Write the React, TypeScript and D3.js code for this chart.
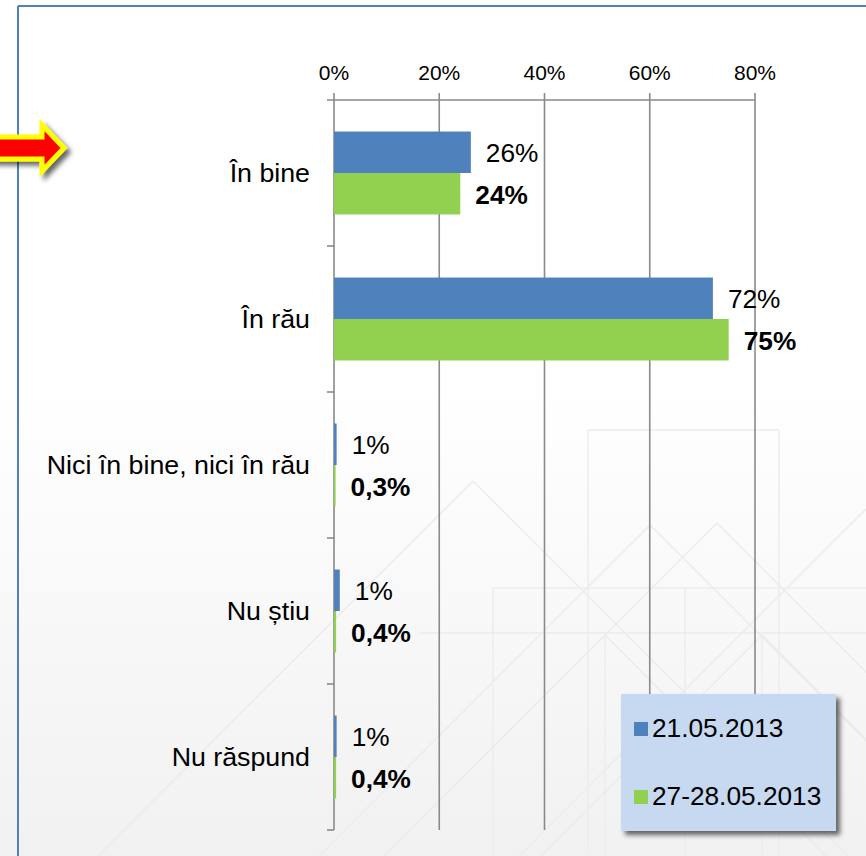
import React from "react";
import * as d3 from "d3";

const categories = ["În bine", "În rău", "Nici în bine, nici în rău", "Nu știu", "Nu răspund"];
const series1Name = "21.05.2013";
const series2Name = "27-28.05.2013";
const series1Values = [26, 72, 0.5, 1.1, 0.5];
const series2Values = [24, 75, 0.3, 0.4, 0.4];
const series1Labels = ["26%", "72%", "1%", "1%", "1%"];
const series2Labels = ["24%", "75%", "0,3%", "0,4%", "0,4%"];
const xTicks = [0, 20, 40, 60, 80];

const BLUE = "#4f81bd";
const GREEN = "#92d050";
const GRID = "#8a8a8a";
const FONT = "'Liberation Sans', Arial, sans-serif";
const SX = 1.05;

const W = 866;
const H = 856;

function T(props: {
  x: number;
  y: number;
  size: number;
  anchor?: "start" | "middle" | "end";
  bold?: boolean;
  children: React.ReactNode;
}) {
  return (
    <text
      transform={`translate(${props.x},${props.y}) scale(${SX},1)`}
      textAnchor={props.anchor || "start"}
      fontSize={props.size}
      fontWeight={props.bold ? "bold" : "normal"}
      fill="#000"
    >
      {props.children}
    </text>
  );
}

export default function App() {
  const x = d3.scaleLinear().domain([0, 80]).range([334, 755]);
  const y = d3.scaleBand<string>().domain(categories).range([100, 830]);
  const bw = y.bandwidth();
  const barH = bw * 0.284;

  // decorative faint background pattern
  const peaks: [number, number][] = [
    [473, 481], [650, 525], [717, 523], [605, 635], [762, 635], [880, 495],
  ];
  const patternLines: [number, number, number, number][] = [];
  peaks.forEach(([px, py]) => {
    const d = H - py;
    patternLines.push([px, py, px - d, H]);
    patternLines.push([px, py, px + d, H]);
  });
  patternLines.push([588, 430, 779, 430]);
  patternLines.push([588, 430, 588, H]);
  patternLines.push([779, 430, 779, H]);
  patternLines.push([493, 588, W, 588]);
  patternLines.push([493, 588, 493, H]);
  patternLines.push([685, 588, 685, H]);
  patternLines.push([420, 633, W, 633]);
  patternLines.push([605, 635, 605, H]);
  patternLines.push([762, 635, 762, H]);

  return (
    <svg
      width={W}
      height={H}
      style={{ position: "absolute", left: 0, top: 0, display: "block" }}
      fontFamily={FONT}
    >
      <defs>
        <linearGradient id="bg" x1="0" y1="0" x2="0" y2="1">
          <stop offset="0" stopColor="#ffffff" />
          <stop offset="0.45" stopColor="#ffffff" />
          <stop offset="1" stopColor="#f1f1f1" />
        </linearGradient>
        <filter id="shadow" x="-20%" y="-20%" width="150%" height="150%">
          <feGaussianBlur in="SourceAlpha" stdDeviation="2.5" />
          <feOffset dx="4" dy="4" result="ob" />
          <feComponentTransfer>
            <feFuncA type="linear" slope="0.6" />
          </feComponentTransfer>
          <feMerge>
            <feMergeNode />
            <feMergeNode in="SourceGraphic" />
          </feMerge>
        </filter>
      </defs>
      <rect x={0} y={0} width={W} height={H} fill="url(#bg)" />
      <g stroke="#ececec" strokeWidth={1.5} fill="none">
        {patternLines.map((l, i) => (
          <line key={i} x1={l[0]} y1={l[1]} x2={l[2]} y2={l[3]} />
        ))}
      </g>

      {/* frame */}
      <line x1={18} y1={6} x2={W} y2={6} stroke={BLUE} strokeWidth={2} />
      <line x1={18} y1={6} x2={18} y2={H} stroke={BLUE} strokeWidth={2} />

      {/* arrow */}
      <polygon
        points="-6,137 42,137 42,125 64,148 42,171 42,159 -6,159"
        fill="#ff0000"
        stroke="#ffff00"
        strokeWidth={5}
        strokeLinejoin="miter"
        filter="url(#shadow)"
      />

      {/* gridlines + top axis */}
      {xTicks.map((t) => (
        <line key={"g" + t} x1={x(t)} y1={93} x2={x(t)} y2={830} stroke={GRID} strokeWidth={1.6} />
      ))}
      <line x1={327} y1={100} x2={x(80)} y2={100} stroke={GRID} strokeWidth={1.6} />
      {xTicks.map((t) => (
        <T key={"t" + t} x={x(t)} y={80} anchor="middle" size={20}>
          {t}%
        </T>
      ))}
      {/* left axis ticks */}
      {categories.map((c) => (
        <line key={"lt" + c} x1={327} y1={(y(c) as number) + bw} x2={334} y2={(y(c) as number) + bw} stroke={GRID} strokeWidth={1.6} />
      ))}

      {/* bars */}
      {categories.map((c, i) => {
        const cy = (y(c) as number) + bw / 2;
        const x0 = x(0);
        const e1 = x(series1Values[i]);
        const e2 = x(series2Values[i]);
        return (
          <g key={c}>
            <rect x={x0} y={cy - barH} width={e1 - x0} height={barH} fill={BLUE} />
            <rect x={x0} y={cy} width={e2 - x0} height={barH} fill={GREEN} />
            <T x={e1 + 15} y={cy - barH / 2 + 10} size={25}>
              {series1Labels[i]}
            </T>
            <T x={e2 + 15} y={cy + barH / 2 + 10} size={25} bold>
              {series2Labels[i]}
            </T>
            <T x={310} y={cy + 9} anchor="end" size={25.5}>
              {c}
            </T>
          </g>
        );
      })}

      {/* legend */}
      <g>
        <rect x={621} y={694} width={215} height={137} fill="#c6d9f1" filter="url(#shadow)" />
        <rect x={634} y={722} width={14} height={14} fill={BLUE} />
        <T x={652} y={737} size={25}>{series1Name}</T>
        <rect x={634} y={790} width={14} height={14} fill={GREEN} />
        <T x={652} y={805} size={25}>{series2Name}</T>
      </g>
    </svg>
  );
}
